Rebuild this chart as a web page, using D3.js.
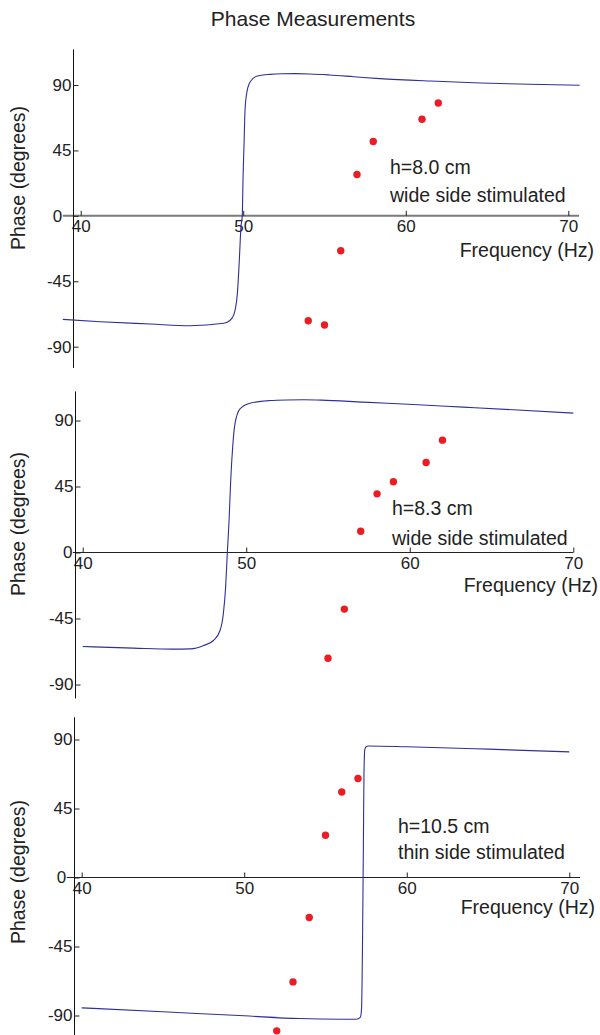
<!DOCTYPE html>
<html>
<head>
<meta charset="utf-8">
<script src="https://cdn.jsdelivr.net/npm/d3@7"></script>
<style>
  body { margin: 0; background: #fff; }
  svg { display: block; }
  text { font-family: "Liberation Sans", Arial, Helvetica, sans-serif; fill: #222; }
</style>
</head>
<body>
<svg id="chart" width="600" height="1035"></svg>
<script>
// Tick values shared by all panels
const freqTicks = [40, 50, 60, 70];
const phaseTicks = [-90, -45, 0, 45, 90];

// Panel 1: h = 8.0 cm, wide side stimulated
const measFreq1  = [54, 55, 56, 57, 58, 61, 62];
const measPhase1 = [-72.1, -75.1, -24.0, 28.4, 51.1, 66.4, 77.6];
const modelFreq1  = [38.9, 41.2, 44.3, 46.7, 48.8, 49.3, 49.5, 49.64, 49.76, 49.86, 49.94, 49.99, 50.05, 50.11, 50.21, 50.42, 50.83, 51.65, 52.4, 53.2, 54.1, 55.3, 56.8, 58.4, 61.5, 64.6, 67.6, 70.7];
const modelPhase1 = [-71.2, -72.8, -74.4, -75.6, -73.9, -70.5, -64.8, -53.3, -30.4, -7.6, 0, 26.8, 49.7, 72.6, 84.1, 92.1, 96.0, 97.3, 97.7, 97.8, 97.6, 96.9, 95.7, 94.4, 92.7, 91.4, 90.5, 89.8];

// Panel 2: h = 8.3 cm, wide side stimulated
const measFreq2  = [55, 56, 57, 58, 59, 61, 62];
const measPhase2 = [-72.1, -38.6, 14.5, 40.0, 48.2, 61.4, 76.6];
const modelFreq2  = [40, 43.1, 45.5, 46.6, 47.4, 48.0, 48.4, 48.6, 48.74, 48.84, 48.95, 49.05, 49.17, 49.31, 49.62, 50.23, 51.45, 52.5, 53.5, 54.6, 57.16, 60.22, 63.27, 66.33, 70];
const modelPhase2 = [-64.1, -65.2, -65.9, -65.7, -63.4, -60, -53.2, -41.8, -23.6, -0.9, 21.8, 49.1, 71.8, 87.7, 98.0, 101.8, 103.6, 104.0, 104.1, 103.9, 102.5, 100.9, 99.1, 97.3, 95.0];

// Panel 3: h = 10.5 cm, thin side stimulated
const measFreq3  = [52, 53, 54, 55, 56, 57];
const measPhase3 = [-100, -68.1, -26.1, 27.6, 55.8, 64.6];
const modelFreq3  = [40, 45, 50, 53.4, 56, 56.9, 57.15, 57.22, 57.28, 57.33, 57.37, 57.42, 57.5, 57.65, 60, 65, 70];
const modelPhase3 = [-85, -87.6, -90.2, -92, -92.4, -92.4, -91, -85, -40, 20, 70, 83.5, 85.3, 85.8, 85.3, 83.7, 81.9];

const captions = [
  ["h=8.0 cm", "wide side stimulated"],
  ["h=8.3 cm", "wide side stimulated"],
  ["h=10.5 cm", "thin side stimulated"]
];

// Layout of each panel (pixel ranges, axis extents in data units, label spots)
const panels = [
  { mf: measFreq1, mp: measPhase1, cf: modelFreq1, cp: modelPhase1, cap: captions[0],
    xr: [80.7, 568.3], yr: [346.7, 85], xAxis: [38.9, 70.66], yAxis: [-104.6, 114.5],
    xAxisColor: "#7a7a7a", xAxisWidth: 2,
    ylabY: 178, capX: 390, capY: [174, 202], freqY: 257, freqX: 594 },
  { mf: measFreq2, mp: measPhase2, cf: modelFreq2, cp: modelPhase2, cap: captions[1],
    xr: [82.7, 573.3], yr: [684.5, 420.5], xAxis: [39.4, 70.0], yAxis: [-99.5, 109.8],
    xAxisColor: "#222", xAxisWidth: 1,
    ylabY: 524, capX: 392, capY: [515, 545], freqY: 592, freqX: 598 },
  { mf: measFreq3, mp: measPhase3, cf: modelFreq3, cp: modelPhase3, cap: captions[2],
    xr: [81.7, 569.3], yr: [1015.5, 739.5], xAxis: [39.08, 70.66], yAxis: [-112, 104.5],
    xAxisColor: "#222", xAxisWidth: 1,
    ylabY: 872, capX: 398, capY: [833, 859], freqY: 914, freqX: 595 }
];

const svg = d3.select("#chart");

svg.append("text")
  .attr("x", 313).attr("y", 26)
  .attr("text-anchor", "middle")
  .style("font-size", "21px")
  .text("Phase Measurements");

const yAxisFreq = 39.5;
const plainNumber = d => String(d);

panels.forEach(p => {
  const x = d3.scaleLinear().domain([40, 70]).range(p.xr);
  const y = d3.scaleLinear().domain([-90, 90]).range(p.yr);
  const g = svg.append("g");

  const y0 = y(0);
  const yAxisX = Math.round(x(yAxisFreq)) + 0.5;

  // x axis line
  g.append("line")
    .attr("x1", x(p.xAxis[0])).attr("x2", x(p.xAxis[1]))
    .attr("y1", y0).attr("y2", y0)
    .attr("stroke", p.xAxisColor).attr("stroke-width", p.xAxisWidth);

  // x ticks pointing up, labels below
  const xAx = d3.axisBottom(x).tickValues(freqTicks).tickFormat(plainNumber)
    .tickSizeInner(-5).tickSizeOuter(0).tickPadding(4);
  const gx = g.append("g").attr("transform", `translate(0,${y0})`).call(xAx);
  gx.select(".domain").remove();
  gx.selectAll(".tick line").attr("stroke", "#222");
  gx.selectAll(".tick text").style("font-size", "17px").attr("fill", "#222");

  // y axis line
  g.append("line")
    .attr("x1", yAxisX).attr("x2", yAxisX)
    .attr("y1", y(p.yAxis[1])).attr("y2", y(p.yAxis[0]))
    .attr("stroke", "#111").attr("stroke-width", 1);

  // y ticks pointing right, labels left
  const yAx = d3.axisLeft(y).tickValues(phaseTicks).tickFormat(plainNumber)
    .tickSizeInner(-5).tickSizeOuter(0).tickPadding(2);
  const gy = g.append("g").attr("transform", `translate(${yAxisX},0)`).call(yAx);
  gy.select(".domain").remove();
  gy.selectAll(".tick line").attr("stroke", "#222");
  gy.selectAll(".tick text").style("font-size", "17px").attr("fill", "#222");
  // the origin label sits just left of where the x axis begins
  gy.selectAll(".tick").filter(d => d === 0).select("text")
    .attr("x", x(p.xAxis[0]) - yAxisX - 0.5);

  // model curve
  const pts = p.cf.map((f, i) => [f, p.cp[i]]);
  g.append("path")
    .datum(pts)
    .attr("fill", "none")
    .attr("stroke", "#2f2f9a")
    .attr("stroke-width", 1.1)
    .attr("d", d3.line().x(d => x(d[0])).y(d => y(d[1])).curve(d3.curveMonotoneX));

  // measured points
  g.selectAll("circle.meas")
    .data(p.mf.map((f, i) => [f, p.mp[i]]))
    .join("circle")
    .attr("class", "meas")
    .attr("cx", d => x(d[0])).attr("cy", d => y(d[1]))
    .attr("r", 3.7)
    .attr("fill", "#ec1c24");

  // captions
  p.cap.forEach((t, i) => {
    g.append("text").attr("x", p.capX).attr("y", p.capY[i])
      .style("font-size", "19.5px").text(t);
  });

  g.append("text").attr("x", p.freqX).attr("y", p.freqY)
    .attr("text-anchor", "end").style("font-size", "19.5px")
    .text("Frequency (Hz)");

  g.append("text")
    .attr("transform", `translate(24.5,${p.ylabY}) rotate(-90)`)
    .attr("text-anchor", "middle").style("font-size", "19.5px")
    .text("Phase (degrees)");
});
</script>
</body>
</html>
